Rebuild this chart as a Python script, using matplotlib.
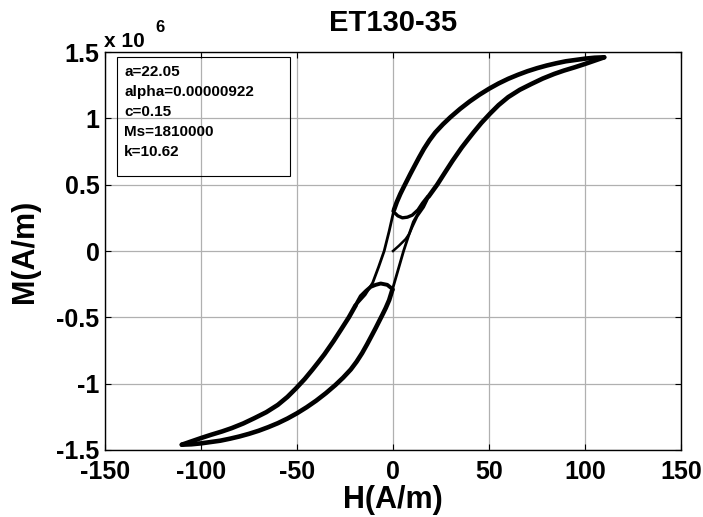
import numpy as np
import matplotlib
matplotlib.use('Agg')
import matplotlib.pyplot as plt
from matplotlib.patches import Rectangle
from matplotlib.ticker import FuncFormatter

plt.rcParams['font.family'] = ['Liberation Sans', 'DejaVu Sans']
plt.rcParams['font.weight'] = 'bold'
plt.rcParams['axes.unicode_minus'] = False

# Values (H in A/m, M in units of 1e6 A/m)
# descending branch (upper / left side of the loop)
desc_H = [110, 105, 100, 95, 90, 85, 80, 75, 70, 65, 60, 55, 50, 45, 40, 35, 30,
          26, 22, 19, 16.1, 13.5, 11, 9, 7.5, 5.5, 3.8, 2, 0.5, -2, -4.6, -7.5,
          -10.6, -14.5, -19.5, -23, -27.2, -31, -35.8, -39, -42, -46, -50.5,
          -55, -60, -66, -72.2, -78, -84, -89, -94.7, -100, -104, -108, -110]
desc_M = [1.46, 1.457, 1.45, 1.44, 1.43, 1.415, 1.398, 1.378, 1.355, 1.328,
          1.298, 1.263, 1.223, 1.178, 1.128, 1.072, 1.01, 0.955, 0.893, 0.835,
          0.77, 0.703, 0.635, 0.58, 0.537, 0.48, 0.43, 0.37, 0.31, 0.15, 0.0,
          -0.12, -0.24, -0.33, -0.41, -0.50, -0.595, -0.68, -0.78, -0.84, -0.895,
          -0.965, -1.035, -1.10, -1.16, -1.215, -1.26, -1.30, -1.335, -1.36,
          -1.385, -1.41, -1.43, -1.45, -1.46]

# ascending branch (lower / right side of the loop)
asc_H = [-110, -105, -100, -95, -90, -85, -80, -75, -70, -65, -60, -55, -50, -45,
         -40, -35, -30, -26, -22, -19, -16.1, -13.5, -11, -9, -7.5, -5.5, -3.8,
         -2, -0.5, 2.5, 5.5, 8, 10.6, 14.5, 18.5, 23, 27.2, 31, 35.8, 39, 42, 46,
         50.5, 55, 60, 66, 72.2, 78, 84, 89, 94.7, 100, 104, 108, 110]
asc_M = [-1.46, -1.457, -1.45, -1.44, -1.43, -1.415, -1.398, -1.378, -1.355,
         -1.328, -1.298, -1.263, -1.223, -1.178, -1.128, -1.072, -1.01, -0.955,
         -0.893, -0.835, -0.77, -0.703, -0.635, -0.58, -0.537, -0.48, -0.43,
         -0.37, -0.30, -0.15, 0.0, 0.11, 0.22, 0.32, 0.41, 0.50, 0.595, 0.68,
         0.78, 0.84, 0.895, 0.965, 1.035, 1.10, 1.16, 1.215, 1.26, 1.30, 1.335,
         1.36, 1.385, 1.41, 1.43, 1.45, 1.46]

# initial magnetisation curve from the origin
init_H = [0, 3.1, 6.6, 8.5, 10, 12.6, 16, 18.7, 23]
init_M = [0, 0.04, 0.09, 0.13, 0.18, 0.26, 0.33, 0.41, 0.50]

# small hooks near H = 0
hook_up_H = [0, 2.5, 4.9, 7.5, 10, 13, 15.3, 18]
hook_up_M = [0.30, 0.265, 0.25, 0.255, 0.27, 0.31, 0.36, 0.41]
hook_lo_H = [0, -3, -6.4, -9, -11.6, -14, -16.8, -19.5]
hook_lo_M = [-0.29, -0.255, -0.245, -0.255, -0.27, -0.30, -0.34, -0.41]

x_ticks = [-150, -100, -50, 0, 50, 100, 150]
y_ticks = [-1.5, -1, -0.5, 0, 0.5, 1, 1.5]

params = ['a=22.05', 'alpha=0.00000922', 'c=0.15', 'Ms=1810000', 'k=10.62']

SCALE = 1e6

fig = plt.figure(figsize=(7.03, 5.17), dpi=100)
ax = fig.add_axes([0.1494, 0.1296, 0.8193, 0.7698])

# full branches thin, then the outer parts thick
dH = np.array(desc_H)
dM = np.array(desc_M)
aH = np.array(asc_H)
aM = np.array(asc_M)
ax.plot(dH, dM * SCALE, color='k', lw=2.0, solid_capstyle='round',
        solid_joinstyle='round')
ax.plot(aH, aM * SCALE, color='k', lw=2.0, solid_capstyle='round',
        solid_joinstyle='round')
d_thin = (dM < 0.30) & (dM > -0.41)
a_thin = (aM > -0.30) & (aM < 0.41)
ax.plot(dH, np.ma.masked_where(d_thin, dM) * SCALE, color='k', lw=3.3,
        solid_capstyle='round', solid_joinstyle='round')
ax.plot(aH, np.ma.masked_where(a_thin, aM) * SCALE, color='k', lw=3.3,
        solid_capstyle='round', solid_joinstyle='round')

ax.plot(init_H, np.array(init_M) * SCALE, color='k', lw=1.8,
        solid_joinstyle='round')
ax.plot(hook_up_H, np.array(hook_up_M) * SCALE, color='k', lw=2.4,
        solid_capstyle='round', solid_joinstyle='round')
ax.plot(hook_lo_H, np.array(hook_lo_M) * SCALE, color='k', lw=2.8,
        solid_capstyle='round', solid_joinstyle='round')

ax.set_xlim(-150, 150)
ax.set_ylim(-1.5 * SCALE, 1.5 * SCALE)
ax.set_xticks(x_ticks)
ax.set_yticks([v * SCALE for v in y_ticks])
ax.yaxis.set_major_formatter(FuncFormatter(lambda v, p: '%g' % (v / SCALE)))
ax.grid(True, color='#b0b0b0', lw=0.9)
ax.set_axisbelow(True)
ax.tick_params(direction='in', length=4, width=0.8, top=True, right=True,
               labelsize=18)
ax.tick_params(axis='x', pad=7)
ax.tick_params(axis='y', pad=4)
for lab in ax.get_xticklabels() + ax.get_yticklabels():
    lab.set_fontweight('bold')
for s in ax.spines.values():
    s.set_linewidth(1.0)

ax.set_title('ET130-35', fontsize=21, fontweight='bold', pad=15)
ax.set_xlabel('H(A/m)', fontsize=22, fontweight='bold', labelpad=1)
ax.set_ylabel('M(A/m)', fontsize=22, fontweight='bold', labelpad=12)

# parameter box
ax.add_patch(Rectangle((0.0214, 0.688), 0.30, 0.30, transform=ax.transAxes,
                       fill=False, edgecolor='k', lw=0.8, zorder=5))
for i, t in enumerate(params):
    ax.text(0.033, 0.9505 - i * 0.0503, t, transform=ax.transAxes, fontsize=11,
            fontweight='bold', va='center', ha='left', zorder=6)

# exponent label
fig.text(0.148, 0.9097, 'x 10', fontsize=15, fontweight='bold', va='baseline')
fig.text(0.2205, 0.938, '6', fontsize=12, fontweight='bold', va='baseline')

fig.savefig('out.png', dpi=100)
